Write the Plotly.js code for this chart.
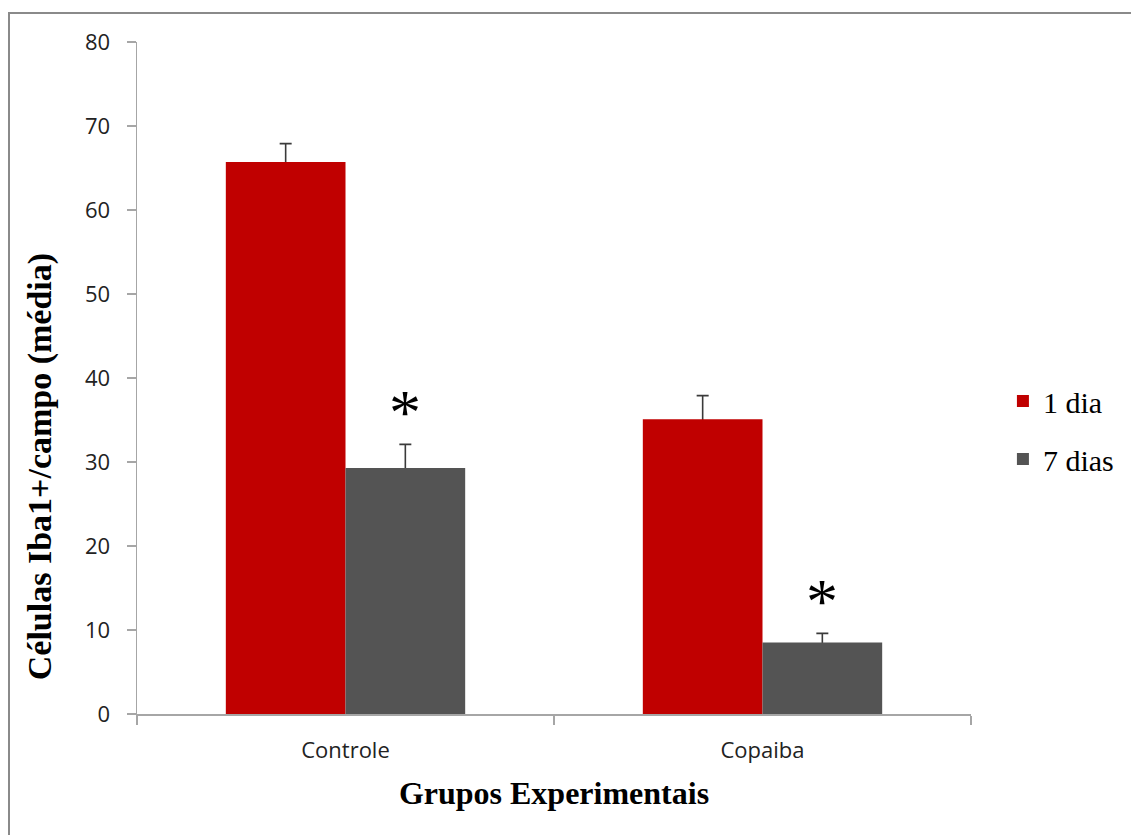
<!DOCTYPE html>
<html>
<head>
<meta charset="utf-8">
<script src="https://cdn.plot.ly/plotly-3.0.1.min.js"></script>
<style>
  html, body { margin:0; padding:0; background:#fff; }
  #wrap { position:relative; width:1131px; height:835px; overflow:hidden; }
  #frame { position:absolute; left:8px; top:12px; width:1200px; height:900px;
           border:2px solid #8a8a8a; box-sizing:border-box; pointer-events:none; }
  #chart { position:absolute; left:0; top:0; width:1131px; height:835px; }
</style>
</head>
<body>
<div id="wrap">
  <div id="chart"></div>
  <div id="frame"></div>
</div>
<script>
// ---- data ----
const categories = ['Controle', 'Copaiba'];
const seriesNames = ['1 dia', '7 dias'];
const dia1 = [65.7, 35.1];
const dia1Err = [2.2, 2.8];
const dias7 = [29.3, 8.5];
const dias7Err = [2.8, 1.1];
const significant = [true, true];   // asterisk over the 7 dias bar
const yTicks = [0, 10, 20, 30, 40, 50, 60, 70, 80];

const W = 1131, H = 835;
const margin = {l:137, r:158, t:42, b:121, pad:0};
const bargap = 0.426;

const errStyle = {type:'data', visible:true, color:'#3a3a3a', thickness:1.6, width:6};
const serif = 'Liberation Serif, Times New Roman, serif';

// error bars drawn first (behind the bars), so only the upper half shows
const traces = [
  {type:'bar', name:seriesNames[0] + ' err', x:categories, y:dia1, offsetgroup:'a',
   error_y:Object.assign({array:dia1Err}, errStyle),
   marker:{color:'rgba(0,0,0,0)'}, showlegend:false},
  {type:'bar', name:seriesNames[1] + ' err', x:categories, y:dias7, offsetgroup:'b',
   error_y:Object.assign({array:dias7Err}, errStyle),
   marker:{color:'rgba(0,0,0,0)'}, showlegend:false},
  {type:'bar', name:seriesNames[0], x:categories, y:dia1, offsetgroup:'a',
   marker:{color:'#C00000'}, legendgroup:'a'},
  {type:'bar', name:seriesNames[1], x:categories, y:dias7, offsetgroup:'b',
   marker:{color:'#545454'}, legendgroup:'b'}
];

// offset of the second bar's centre from category centre, in px
const plotW = W - margin.l - margin.r;
const plotH = H - margin.t - margin.b;
const catW = plotW / categories.length;
const barOffset = catW * (1 - bargap) / 4;

const annotations = [];
categories.forEach((c, i) => {
  if (significant[i]) {
    annotations.push({
      x: c, y: dias7[i] + dias7Err[i], xref:'x', yref:'y',
      text:'*', showarrow:false, xshift: barOffset, yshift: -6,
      yanchor:'bottom', xanchor:'center',
      font:{family:serif, size:64, color:'#000'}
    });
  }
});
annotations.push({
  text:'<b>Células Iba1+/campo (média)</b>', textangle:-90,
  xref:'paper', yref:'paper', x:(40 - margin.l)/plotW, y:(H - margin.b - 467)/plotH,
  xanchor:'center', yanchor:'middle', showarrow:false,
  font:{family:serif, size:34, color:'#000'}
});

const layout = {
  width:W, height:H, margin:margin,
  paper_bgcolor:'#fff', plot_bgcolor:'#fff',
  barmode:'group', bargap:bargap, bargroupgap:0,
  showlegend:true,
  legend:{x:(1005 - margin.l)/plotW, y:(H - margin.b - 430)/plotH,
          xanchor:'left', yanchor:'middle', traceorder:'grouped', tracegroupgap:16,
          font:{family:serif, size:30, color:'#000'},
          bgcolor:'rgba(0,0,0,0)'},
  xaxis:{type:'category', tickson:'boundaries', ticks:'outside', ticklen:9, tickcolor:'#a6a6a6',
         tickwidth:1.5, showline:true, linecolor:'#a6a6a6', linewidth:1.5, showgrid:false,
         zeroline:false, ticklabelstandoff:16,
         tickfont:{family:'Open Sans, sans-serif', size:22, color:'#222'},
         title:{text:'<b>Grupos Experimentais</b>', standoff:18,
                font:{family:serif, size:32, color:'#000'}}},
  yaxis:{range:[0,80], tickvals:yTicks, ticks:'outside', ticklen:9, tickcolor:'#a6a6a6',
         tickwidth:1.5, showline:true, linecolor:'#a6a6a6', linewidth:1.5, showgrid:false,
         zeroline:false, ticklabelstandoff:12,
         tickfont:{family:'Open Sans, sans-serif', size:22, color:'#222'}},
  annotations:annotations
};

Plotly.newPlot('chart', traces, layout, {staticPlot:true, displayModeBar:false});
</script>
</body>
</html>
